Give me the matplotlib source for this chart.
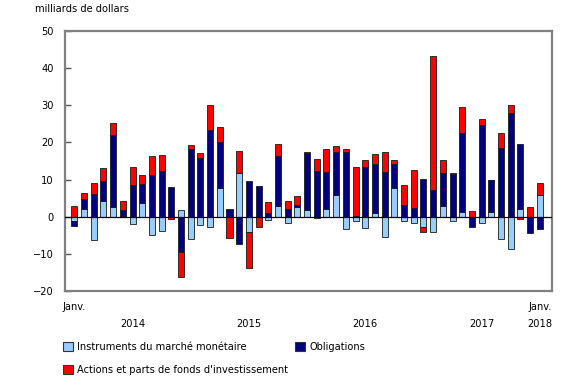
import numpy as np
import matplotlib
matplotlib.use("Agg")
from matplotlib import pyplot as plt
from matplotlib.patches import Patch

# monthly values, Jan 2014 to Jan 2018 (billions of dollars)
money_market = [-1.2, 2.2, -6.2, 4.1, 2.7, 0.3, -1.9, 3.6, -5.0, -3.9, 0.0, 1.9,
                -5.9, -2.3, -2.9, 7.7, 0.0, 11.9, -4.0, 0.0, -0.8, 3.0, -1.7, 2.5,
                1.7, -0.3, 2.2, 5.9, -3.4, -1.1, -3.0, 1.1, -5.5, 7.6, -1.1, -1.8,
                -2.7, -4.2, 2.8, -1.1, 1.4, 0.0, -1.6, 1.4, -6.0, -8.8, 2.2, 0.0, 5.9]
bonds = [-1.2, 2.7, 6.1, 5.4, 19.2, 1.4, 8.6, 5.3, 11.3, 12.3, 8.1, -9.4,
         18.3, 15.7, 23.4, 12.3, 2.2, -7.4, 9.5, 8.4, 0.9, 13.3, 2.0, 0.6,
         15.5, 12.2, 9.8, 11.4, 17.4, 0.1, 13.5, 13.0, 12.0, 6.5, 3.2, 2.3,
         10.1, 7.3, 8.9, 11.5, 21.1, -2.8, 24.8, 8.4, 18.6, 27.9, 17.5, -4.3, -3.4]
equities = [3.0, 1.6, 3.1, 3.7, 3.2, 2.5, 4.7, 2.3, 5.0, 4.2, -0.6, -6.9,
            0.9, 1.5, 6.8, 4.2, -5.8, 5.7, -9.7, -2.9, 3.1, 3.3, 2.3, 2.6,
            0.2, 3.4, 6.2, 1.7, 0.8, 13.3, 1.8, 2.8, 5.5, 1.1, 5.4, 10.2,
            -1.4, 35.9, 3.6, 0.2, 7.1, 1.6, 1.5, 0.2, 4.0, 2.1, -0.5, 2.7, 3.1]

series = [("Instruments du marché monétaire", money_market, "#99CCFF"),
          ("Obligations", bonds, "#000080"),
          ("Actions et parts de fonds d'investissement", equities, "#FF0000")]

year_pos = [6, 18, 30, 42]
year_labels = ["\n2014", "\n2015", "\n2016", "\n2017"]

fs = 7.1
fig = plt.figure(figsize=(5.8, 3.85), dpi=100)
ax = fig.add_axes([65 / 580, 1 - 291 / 385, (552 - 65) / 580, (291 - 31) / 385])

x = np.arange(len(bonds))
pos_base = np.zeros(len(x))
neg_base = np.zeros(len(x))
for name, vals, col in series:
    v = np.array(vals)
    b = np.where(v >= 0, pos_base, neg_base)
    ax.bar(x, v, 0.62, bottom=b, color=col, edgecolor="#1a1a1a", linewidth=0.6, zorder=2)
    pos_base = pos_base + np.where(v >= 0, v, 0)
    neg_base = neg_base + np.where(v < 0, v, 0)

ax.axhline(0, color="black", linewidth=0.9, zorder=3)
ax.set_ylim(-20, 50)
ax.set_xlim(-0.96, 49.25)
ax.set_yticks(range(-20, 51, 10))
ax.tick_params(axis="y", direction="in", length=4, color="#555555", width=1, labelsize=fs, pad=8)
for s in ax.spines.values():
    s.set_color("#808080")
    s.set_linewidth(1.6)

ax.set_xticks([0, 48])
ax.set_xticklabels(["Janv.", "Janv.\n2018"], fontsize=fs, linespacing=1.8)
ax.set_xticks(year_pos, minor=True)
ax.set_xticklabels(year_labels, minor=True, fontsize=fs, linespacing=1.8)
ax.tick_params(axis="x", which="both", length=0, pad=8)

fig.text(35 / 580, 1 - 9 / 385, "milliards de dollars", fontsize=fs, va="center", ha="left")

handles = [Patch(facecolor=c, edgecolor="#333333", linewidth=0.8) for _, _, c in series]
labels = [n for n, _, _ in series]
kw = dict(loc="upper left", frameon=False, fontsize=fs, handlelength=1.05,
          handleheight=1.05, handletextpad=0.4, labelspacing=1.3, borderaxespad=0)
fig.legend([handles[0], handles[2]], [labels[0], labels[2]],
           bbox_to_anchor=(59 / 580, 1 - 338 / 385), **kw)
fig.legend([handles[1]], [labels[1]], bbox_to_anchor=(291 / 580, 1 - 338 / 385), **kw)

fig.savefig("out.png", dpi=100)
